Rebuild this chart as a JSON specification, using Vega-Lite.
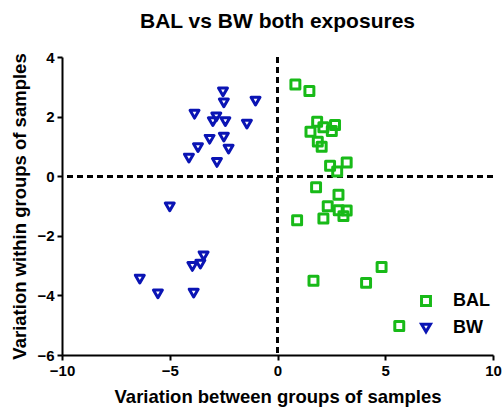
{
  "$schema": "https://vega.github.io/schema/vega-lite/v6.json",
  "width": 431,
  "height": 298,
  "autosize": {"type": "none"},
  "padding": {"left": 62, "top": 57, "right": 11, "bottom": 54},
  "background": "white",
  "title": {"text": "BAL vs BW both exposures", "font": "Liberation Sans", "fontSize": 21, "fontWeight": "bold", "color": "black", "offset": 18},
  "config": {"view": {"stroke": null}},
  "data": {"values": [
    {"group": "BAL", "x": 0.83, "y": 3.08},
    {"group": "BAL", "x": 1.48, "y": 2.86},
    {"group": "BAL", "x": 1.84, "y": 1.83},
    {"group": "BAL", "x": 2.67, "y": 1.72},
    {"group": "BAL", "x": 2.13, "y": 1.64},
    {"group": "BAL", "x": 1.53, "y": 1.49},
    {"group": "BAL", "x": 2.52, "y": 1.52},
    {"group": "BAL", "x": 1.87, "y": 1.16},
    {"group": "BAL", "x": 2.05, "y": 0.99},
    {"group": "BAL", "x": 2.44, "y": 0.35},
    {"group": "BAL", "x": 3.21, "y": 0.46},
    {"group": "BAL", "x": 2.77, "y": 0.16},
    {"group": "BAL", "x": 1.79, "y": -0.37},
    {"group": "BAL", "x": 2.83, "y": -0.62},
    {"group": "BAL", "x": 2.33, "y": -1.01},
    {"group": "BAL", "x": 3.21, "y": -1.15},
    {"group": "BAL", "x": 2.84, "y": -1.14},
    {"group": "BAL", "x": 0.91, "y": -1.48},
    {"group": "BAL", "x": 2.13, "y": -1.42},
    {"group": "BAL", "x": 3.06, "y": -1.34},
    {"group": "BAL", "x": 4.83, "y": -3.05},
    {"group": "BAL", "x": 1.67, "y": -3.51},
    {"group": "BAL", "x": 4.11, "y": -3.58},
    {"group": "BAL", "x": 5.65, "y": -5.03},
    {"group": "BW", "x": -2.53, "y": 2.83},
    {"group": "BW", "x": -2.49, "y": 2.46},
    {"group": "BW", "x": -1.02, "y": 2.52},
    {"group": "BW", "x": -3.85, "y": 2.08},
    {"group": "BW", "x": -2.84, "y": 1.99},
    {"group": "BW", "x": -3.0, "y": 1.83},
    {"group": "BW", "x": -2.42, "y": 1.83},
    {"group": "BW", "x": -1.42, "y": 1.75},
    {"group": "BW", "x": -3.15, "y": 1.24},
    {"group": "BW", "x": -2.49, "y": 1.31},
    {"group": "BW", "x": -3.69, "y": 0.96},
    {"group": "BW", "x": -2.27, "y": 0.91},
    {"group": "BW", "x": -4.11, "y": 0.61},
    {"group": "BW", "x": -2.81, "y": 0.46},
    {"group": "BW", "x": -5.0, "y": -1.03},
    {"group": "BW", "x": -3.43, "y": -2.67},
    {"group": "BW", "x": -3.58, "y": -2.95},
    {"group": "BW", "x": -3.95, "y": -3.03},
    {"group": "BW", "x": -6.39, "y": -3.45},
    {"group": "BW", "x": -5.55, "y": -3.95},
    {"group": "BW", "x": -3.89, "y": -3.92}
  ]},
  "layer": [
    {
      "mark": {"type": "rule", "strokeDash": [6, 4], "strokeWidth": 2, "color": "black"},
      "encoding": {"x": {"datum": 0, "type": "quantitative"}}
    },
    {
      "mark": {"type": "rule", "strokeDash": [6, 4], "strokeWidth": 2, "color": "black"},
      "encoding": {"y": {"datum": 0, "type": "quantitative"}}
    },
    {
      "mark": {"type": "point", "filled": false, "strokeWidth": 3, "size": 80, "opacity": 1, "strokeJoin": "round"},
      "encoding": {
        "x": {"field": "x", "type": "quantitative",
          "scale": {"domain": [-10, 10], "nice": false, "zero": false},
          "axis": {"title": "Variation between groups of samples", "values": [-10, -5, 0, 5, 10], "grid": false,
            "domainColor": "black", "domainWidth": 2, "tickColor": "black", "tickWidth": 2, "tickSize": 5,
            "labelFont": "Liberation Sans", "labelFontSize": 15, "labelFontWeight": "bold", "labelColor": "black", "labelPadding": 3, "labelFlush": false,
            "titleFont": "Liberation Sans", "titleFontSize": 18.5, "titleFontWeight": "bold", "titleColor": "black", "titlePadding": 9}},
        "y": {"field": "y", "type": "quantitative",
          "scale": {"domain": [-6, 4], "nice": false, "zero": false},
          "axis": {"title": "Variation within groups of samples", "values": [-6, -4, -2, 0, 2, 4], "grid": false,
            "domainColor": "black", "domainWidth": 2, "tickColor": "black", "tickWidth": 2, "tickSize": 5,
            "labelFont": "Liberation Sans", "labelFontSize": 15, "labelFontWeight": "bold", "labelColor": "black", "labelPadding": 3, "labelFlush": false,
            "titleFont": "Liberation Sans", "titleFontSize": 18.5, "titleFontWeight": "bold", "titleColor": "black", "titlePadding": 7}},
        "color": {"field": "group", "type": "nominal",
          "scale": {"domain": ["BAL", "BW"], "range": ["#18BA18", "#0A14B4"]},
          "legend": {"title": null, "orient": "none", "legendX": 355, "legendY": 235,
            "labelFont": "Liberation Sans", "labelFontSize": 18, "labelFontWeight": "bold", "labelColor": "black",
            "symbolStrokeWidth": 3, "symbolSize": 80, "rowPadding": 6, "labelOffset": 18}},
        "shape": {"field": "group", "type": "nominal",
          "scale": {"domain": ["BAL", "BW"], "range": ["square", "triangle-down"]},
          "legend": null}
      }
    }
  ]
}
